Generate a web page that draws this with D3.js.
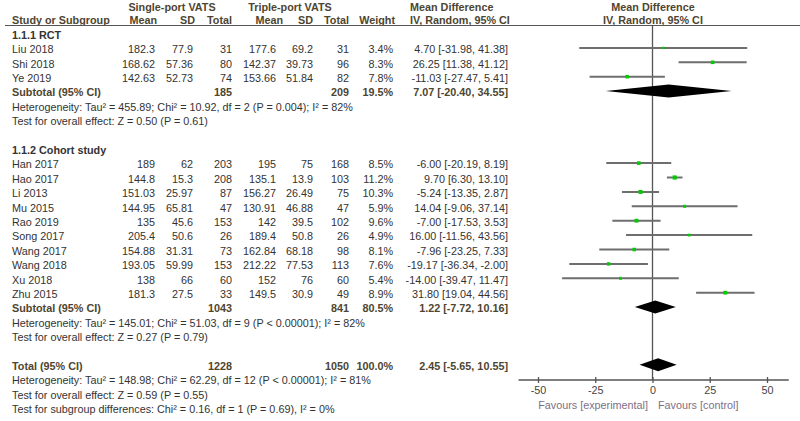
<!DOCTYPE html>
<html><head><meta charset="utf-8">
<script src="https://cdn.jsdelivr.net/npm/d3@7"></script>
<style>
html,body{margin:0;padding:0;background:#fff;}
svg{display:block;font-family:"Liberation Sans",Arial,sans-serif;}
</style></head>
<body><svg id="c" width="800" height="421"></svg>
<script>
// ---- data ----
const groupLabels = ["1.1.1 RCT", "1.1.2 Cohort study"];
const studyNames = ["Liu 2018","Shi 2018","Ye 2019","Han 2017","Hao 2017","Li 2013","Mu 2015","Rao 2019","Song 2017","Wang 2017","Wang 2018","Xu 2018","Zhu 2015"];
const studyGroup = [0,0,0,1,1,1,1,1,1,1,1,1,1];
const spMean = ["182.3","168.62","142.63","189","144.8","151.03","144.95","135","205.4","154.88","193.05","138","181.3"];
const spSD = ["77.9","57.36","52.73","62","15.3","25.97","65.81","45.6","50.6","31.31","59.99","66","27.5"];
const spTotal = [31,80,74,203,208,87,47,153,26,73,153,60,33];
const tpMean = ["177.6","142.37","153.66","195","135.1","156.27","130.91","142","189.4","162.84","212.22","152","149.5"];
const tpSD = ["69.2","39.73","51.84","75","13.9","26.49","46.88","39.5","50.8","68.18","77.53","76","30.9"];
const tpTotal = [31,96,82,168,103,75,47,102,26,98,113,60,49];
const weights = [3.4,8.3,7.8,8.5,11.2,10.3,5.9,9.6,4.9,8.1,7.6,5.4,8.9];
const md = [4.70,26.25,-11.03,-6.00,9.70,-5.24,14.04,-7.00,16.00,-7.96,-19.17,-14.00,31.80];
const ciLow = [-31.98,11.38,-27.47,-20.19,6.30,-13.35,-9.06,-17.53,-11.56,-23.25,-36.34,-39.47,19.04];
const ciHigh = [41.38,41.12,5.41,8.19,13.10,2.87,37.14,3.53,43.56,7.33,-2.00,11.47,44.56];
const subSp = [185,1043];
const subTp = [209,841];
const subWeight = ["19.5%","80.5%"];
const subMD = [7.07,1.22];
const subLow = [-20.40,-7.72];
const subHigh = [34.55,10.16];
const subHet = ["Heterogeneity: Tau² = 455.89; Chi² = 10.92, df = 2 (P = 0.004); I² = 82%",
                "Heterogeneity: Tau² = 145.01; Chi² = 51.03, df = 9 (P < 0.00001); I² = 82%"];
const subTest = ["Test for overall effect: Z = 0.50 (P = 0.61)","Test for overall effect: Z = 0.27 (P = 0.79)"];
const totSp = 1228, totTp = 1050, totWeight = "100.0%";
const totMD = 2.45, totLow = -5.65, totHigh = 10.55;
const totHet = "Heterogeneity: Tau² = 148.98; Chi² = 62.29, df = 12 (P < 0.00001); I² = 81%";
const totTest = "Test for overall effect: Z = 0.59 (P = 0.55)";
const subgroupTest = "Test for subgroup differences: Chi² = 0.16, df = 1 (P = 0.69), I² = 0%";
const tickValues = [-50,-25,0,25,50];
const favLeft = "Favours [experimental]", favRight = "Favours [control]";

// ---- layout ----
const svg = d3.select("#c");
const FS = 10.8;
const dataCol = "#333";
const boldCol = "#4e4530";
const x = d3.scaleLinear().domain([-50,50]).range([538,767]);
const rowY = k => 35 + 14.4*k;

function txt(s, xp, yp, anchor, opts={}) {
  return svg.append("text").attr("x", xp).attr("y", yp).attr("dy","0.35em")
    .attr("text-anchor", anchor||"start").attr("font-size", opts.fs||FS)
    .attr("font-weight", opts.bold ? "bold" : "normal")
    .attr("fill", opts.fill || (opts.bold ? boldCol : dataCol)).text(s);
}
const f2 = v => v.toFixed(2);
const ciText = (m,l,h) => `${f2(m)} [${f2(l)}, ${f2(h)}]`;

// header
txt("Single-port VATS", 172, 7, "middle", {bold:true});
txt("Triple-port VATS", 290, 7, "middle", {bold:true});
txt("Mean Difference", 410, 7, "start", {bold:true});
txt("Mean Difference", 653, 7, "middle", {bold:true});
txt("Study or Subgroup", 12, 20, "start", {bold:true});
txt("Mean", 157, 20, "end", {bold:true});
txt("SD", 195, 20, "end", {bold:true});
txt("Total", 232, 20, "end", {bold:true});
txt("Mean", 283, 20, "end", {bold:true});
txt("SD", 313, 20, "end", {bold:true});
txt("Total", 349, 20, "end", {bold:true});
txt("Weight", 395, 20, "end", {bold:true});
txt("IV, Random, 95% CI", 410, 20, "start", {bold:true});
txt("IV, Random, 95% CI", 653, 20, "middle", {bold:true});
svg.append("line").attr("x1",5).attr("x2",800).attr("y1",25.5).attr("y2",25.5)
  .attr("stroke","#555").attr("stroke-width",1.2);

// zero line
svg.append("line").attr("x1",x(0)).attr("x2",x(0)).attr("y1",26).attr("y2",380)
  .attr("stroke","#555").attr("stroke-width",1.3);

const colX = {spMean:155, spSD:193, spTotal:232, tpMean:276, tpSD:313, tpTotal:349, weight:393, ci:508};

let k = 0;
[0,1].forEach(g => {
  txt(groupLabels[g], 12, rowY(k), "start", {bold:true, fill:"#333"});
  k++;
  studyNames.forEach((name,i) => {
    if (studyGroup[i] !== g) return;
    const y = rowY(k);
    txt(name, 12, y);
    txt(spMean[i], colX.spMean, y, "end");
    txt(spSD[i], colX.spSD, y, "end");
    txt(spTotal[i], colX.spTotal, y, "end");
    txt(tpMean[i], colX.tpMean, y, "end");
    txt(tpSD[i], colX.tpSD, y, "end");
    txt(tpTotal[i], colX.tpTotal, y, "end");
    txt(weights[i].toFixed(1)+"%", colX.weight, y, "end");
    txt(ciText(md[i],ciLow[i],ciHigh[i]), colX.ci, y, "end");
    const ly = y - 1.5;
    svg.append("line").attr("x1",x(ciLow[i])).attr("x2",x(ciHigh[i])).attr("y1",ly).attr("y2",ly)
      .attr("stroke","#6e6e6e").attr("stroke-width",2);
    const s = 1.25*Math.sqrt(weights[i]);
    svg.append("rect").attr("x",x(md[i])-s/2).attr("y",ly-s/2).attr("width",s).attr("height",s)
      .attr("fill","#00cc00");
    k++;
  });
  const y = rowY(k);
  txt("Subtotal (95% CI)", 12, y, "start", {bold:true});
  txt(subSp[g], colX.spTotal, y, "end", {bold:true});
  txt(subTp[g], colX.tpTotal, y, "end", {bold:true});
  txt(subWeight[g], colX.weight, y, "end", {bold:true});
  txt(ciText(subMD[g],subLow[g],subHigh[g]), colX.ci, y, "end", {bold:true});
  const dy = y - 1.5;
  svg.append("path").attr("d", d3.line()([[x(subLow[g]),dy],[x(subMD[g]),dy-6.5],[x(subHigh[g]),dy],[x(subMD[g]),dy+6.5]])+"Z")
    .attr("fill","#000");
  k++;
  txt(subHet[g], 12, rowY(k)); k++;
  txt(subTest[g], 12, rowY(k)); k++;
  k++;
});
{
  const y = rowY(k);
  txt("Total (95% CI)", 12, y, "start", {bold:true});
  txt(totSp, colX.spTotal, y, "end", {bold:true});
  txt(totTp, colX.tpTotal, y, "end", {bold:true});
  txt(totWeight, colX.weight, y, "end", {bold:true});
  txt(ciText(totMD,totLow,totHigh), colX.ci, y, "end", {bold:true});
  const dy = y - 1.5;
  svg.append("path").attr("d", d3.line()([[x(totLow),dy],[x(totMD),dy-6.5],[x(totHigh),dy],[x(totMD),dy+6.5]])+"Z")
    .attr("fill","#000");
  k++;
  txt(totHet, 12, rowY(k)); k++;
  txt(totTest, 12, rowY(k)); k++;
  txt(subgroupTest, 12, rowY(k)); k++;
}

// axis
const axisY = 380;
svg.append("line").attr("x1",x(-58.5)).attr("x2",x(59.5)).attr("y1",axisY).attr("y2",axisY)
  .attr("stroke","#555").attr("stroke-width",1.3);
const axG = svg.append("g").attr("transform",`translate(0,${axisY-3})`)
  .call(d3.axisBottom(x).tickValues(tickValues).tickSize(6).tickFormat(d => String(d)));
axG.select(".domain").remove();
axG.selectAll(".tick line").attr("stroke","#555").attr("stroke-width",1.3);
axG.selectAll(".tick text").attr("font-size",FS).attr("fill","#444")
  .attr("font-family","Liberation Sans, Arial, sans-serif").attr("y",9);
txt(favLeft, 648, 405, "end", {fill:"#7d6f86"});
txt(favRight, 658, 405, "start", {fill:"#7d6f86"});
</script></body></html>
